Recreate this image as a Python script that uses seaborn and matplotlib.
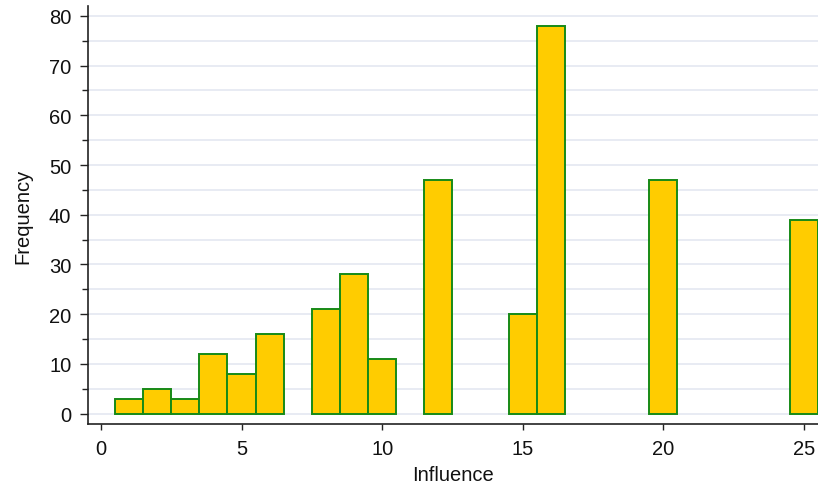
import seaborn as sns
import pandas as pd
import matplotlib.pyplot as plt
from matplotlib.ticker import MultipleLocator

influence = [1, 2, 3, 4, 5, 6, 8, 9, 10, 12, 15, 16, 20, 25]
frequency = [3, 5, 3, 12, 8, 16, 21, 28, 11, 47, 20, 78, 47, 39]

df = pd.DataFrame({'Influence': influence, 'Frequency': frequency})

sns.set_style('white')
plt.rcParams['font.family'] = ['Liberation Sans', 'DejaVu Sans']

fig = plt.figure(figsize=(8.18, 4.89), dpi=100)
ax = fig.add_axes([88/818, 64/489, 1 - 88/818, 418/489])

sns.histplot(data=df, x='Influence', weights='Frequency', discrete=True,
             color='#ffcc00', edgecolor='#178a17', linewidth=1.4, alpha=1, ax=ax)
# empty bins should not show as a line on the baseline
for p in ax.patches:
    if p.get_height() == 0:
        p.set_visible(False)

ax.set_xlim(-0.46, 25.5)
ax.set_ylim(-2.1, 82)
ax.set_xticks([0, 5, 10, 15, 20, 25])
ax.yaxis.set_major_locator(MultipleLocator(10))
ax.yaxis.set_minor_locator(MultipleLocator(5))
ax.grid(True, axis='y', which='both', color='#e4e7f1', linewidth=1.2)
ax.set_axisbelow(True)

for s in ['top', 'right']:
    ax.spines[s].set_visible(False)
for s in ['left', 'bottom']:
    ax.spines[s].set_color('#222222')
    ax.spines[s].set_linewidth(1.2)

ax.tick_params(axis='y', which='major', direction='out', length=6, width=1,
               color='#222222', labelsize=14.5, labelcolor='#111111', left=True, pad=6)
ax.tick_params(axis='x', which='major', direction='out', length=4.5, width=1,
               color='#222222', labelsize=14.5, labelcolor='#111111', bottom=True, pad=6)
ax.tick_params(axis='y', which='minor', direction='out', length=4.5, width=1,
               color='#222222', left=True)
ax.set_xlabel('Influence', fontsize=14.5, color='#111111', labelpad=5)
ax.set_ylabel('Frequency', fontsize=14.5, color='#111111', labelpad=12)

fig.savefig('out.png', dpi=100)
